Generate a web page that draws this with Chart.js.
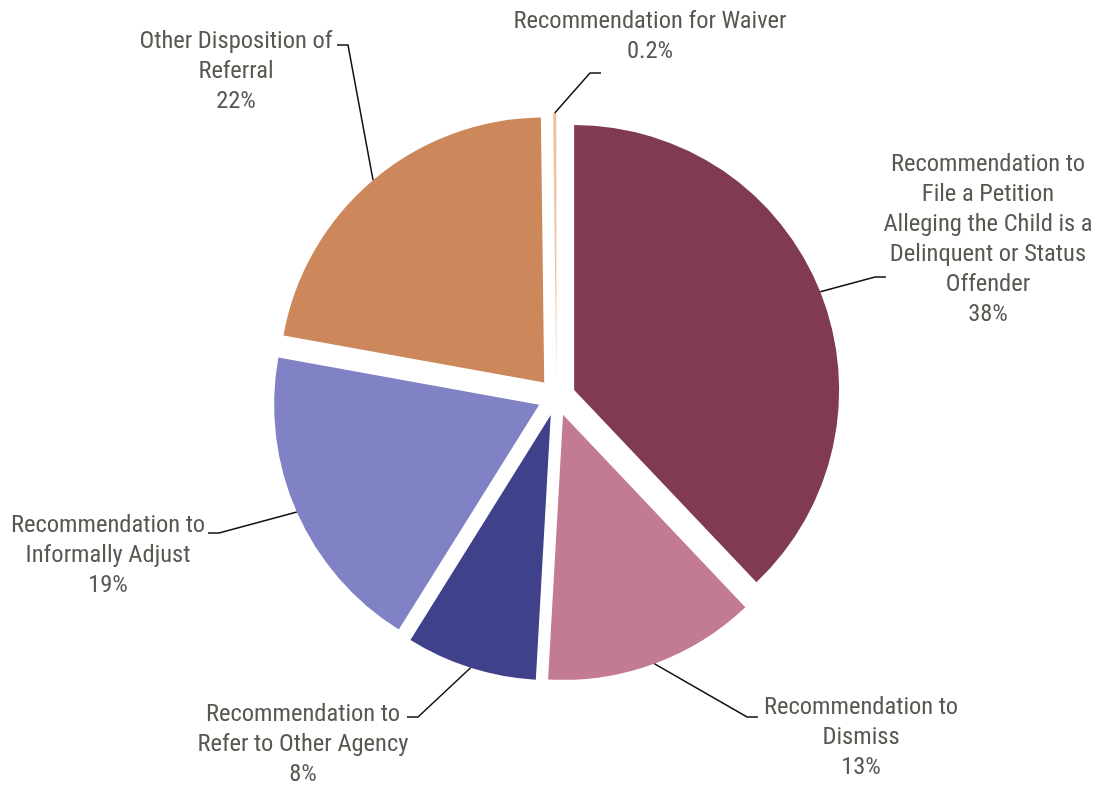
<html>
<head>
<meta charset="utf-8">
<style>
  body { margin: 0; background: #fff; }
  .chart-box { width: 1103px; height: 788px; }
</style>
</head>
<body>
<script src="https://cdn.jsdelivr.net/npm/chart.js@4.4.0/dist/chart.umd.min.js"></script>
<div class="chart-box"><canvas id="dispositionPie"></canvas></div>
<script>
  // chart data
  let sliceLabels = [
    ["Recommendation to", "File a Petition", "Alleging the Child is a", "Delinquent or Status", "Offender"],
    ["Recommendation to", "Dismiss"],
    ["Recommendation to", "Refer to Other Agency"],
    ["Recommendation to", "Informally Adjust"],
    ["Other Disposition of", "Referral"],
    ["Recommendation for Waiver"],
  ];
  let sliceValues = [38, 13, 8, 19, 22, 0.2];
  let valueText = ["38%", "13%", "8%", "19%", "22%", "0.2%"];

  // chart colors
  let sliceColors = ["#803a52", "#c27b93", "#3f418a", "#8082c5", "#cc875b", "#f0c2a2"];
  let labelColor = "#5a5650";
  let labelFont = '"Liberation Sans Narrow", "Arial Narrow", "Roboto Condensed", sans-serif';

  // every slice is pulled out by the same distance
  let explodeDistance = 19;

  // label placement: text centre x, first line y, connector end x/y
  let labelLayout = [
    { tx: 988, ty: 165, ex: 886, ey: 277 },
    { tx: 861, ty: 708, ex: 758, ey: 717 },
    { tx: 303, ty: 715, ex: 407, ey: 717 },
    { tx: 108, ty: 526, ex: 208, ey: 533 },
    { tx: 236, ty: 42, ex: 337, ey: 45 },
    { tx: 650, ty: 22, ex: 601, ey: 73 },
  ];

  // pull each arc out along its middle angle, keeping the radius unchanged
  const baseArcDraw = Chart.ArcElement.prototype.draw;
  Chart.ArcElement.prototype.draw = function (ctx) {
    const mid = (this.startAngle + this.endAngle) / 2;
    ctx.save();
    ctx.translate(Math.cos(mid) * explodeDistance, Math.sin(mid) * explodeDistance);
    baseArcDraw.call(this, ctx);
    ctx.restore();
  };

  // draws the outside labels with elbow leader lines
  const outsideLabels = {
    id: "outsideLabels",
    afterDatasetsDraw(chart) {
      const ctx = chart.ctx;
      const arcs = chart.getDatasetMeta(0).data;
      ctx.save();
      arcs.forEach((arc, i) => {
        const p = arc.getProps(["x", "y", "startAngle", "endAngle", "outerRadius"], true);
        const mid = (p.startAngle + p.endAngle) / 2;
        const sx = p.x + Math.cos(mid) * (p.outerRadius + explodeDistance);
        const sy = p.y + Math.sin(mid) * (p.outerRadius + explodeDistance);
        const L = labelLayout[i];
        const dir = L.ex > sx ? 1 : -1;
        const elbowX = L.ex - dir * 11;

        ctx.strokeStyle = "#111";
        ctx.lineWidth = 1.5;
        ctx.beginPath();
        ctx.moveTo(sx, sy);
        ctx.lineTo(elbowX, L.ey);
        ctx.lineTo(L.ex, L.ey);
        ctx.stroke();

        ctx.fillStyle = labelColor;
        ctx.font = "24.5px " + labelFont;
        ctx.textAlign = "center";
        ctx.textBaseline = "middle";
        const lines = sliceLabels[i].concat([valueText[i]]);
        lines.forEach((t, k) => ctx.fillText(t, L.tx, L.ty + k * 30));
      });
      ctx.restore();
    },
  };

  new Chart(document.getElementById("dispositionPie"), {
    type: "pie",
    data: {
      labels: sliceLabels.map((l) => l.join(" ")),
      datasets: [{
        data: sliceValues,
        backgroundColor: sliceColors,
        borderWidth: 0,
      }],
    },
    options: {
      responsive: true,
      maintainAspectRatio: false,
      animation: false,
      radius: 265,
      layout: { padding: { left: 10, top: 6 } },
      plugins: {
        legend: { display: false },
        tooltip: { enabled: false },
      },
    },
    plugins: [outsideLabels],
  });
</script>
</body>
</html>
